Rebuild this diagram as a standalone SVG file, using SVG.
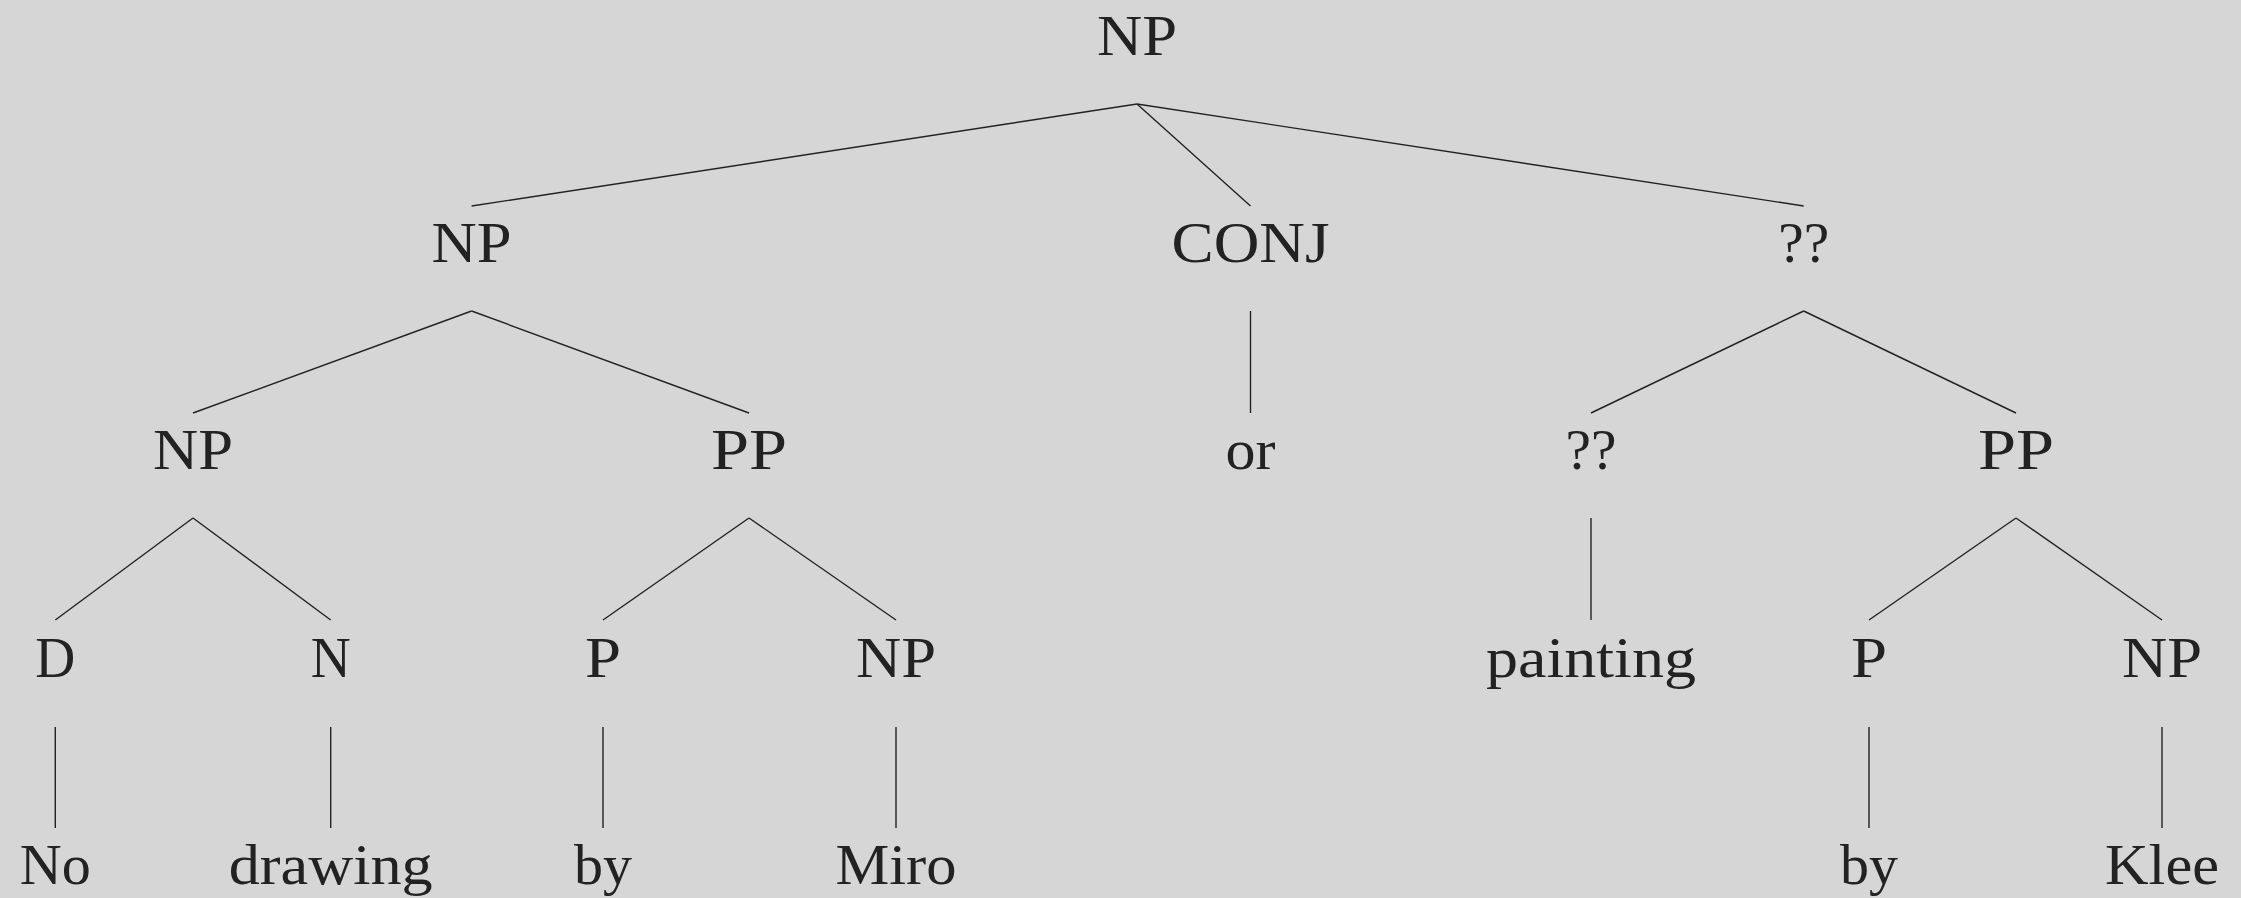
<svg xmlns="http://www.w3.org/2000/svg" width="2241" height="898" viewBox="0 0 2241 898">
<style>
  .bg { fill: #d6d6d6; }
  text { font-family: "Liberation Serif", "DejaVu Serif", serif; font-size: 58px; fill: #222222; text-anchor: middle; }
  .edges line { stroke: #222222; stroke-width: 1.4; stroke-linecap: butt; }
</style>
<rect class="bg" x="0" y="0" width="2241" height="898"/>
<g id="connectors" class="edges">
  <line x1="1137" y1="104" x2="471.6" y2="206"/>
  <line x1="1137" y1="104" x2="1250.5" y2="206"/>
  <line x1="1137" y1="104" x2="1803.7" y2="206"/>
  <line x1="471.6" y1="311" x2="193" y2="413"/>
  <line x1="471.6" y1="311" x2="749" y2="413"/>
  <line x1="1250.5" y1="311" x2="1250.5" y2="413"/>
  <line x1="1803.7" y1="311" x2="1591" y2="413"/>
  <line x1="1803.7" y1="311" x2="2016" y2="413"/>
  <line x1="193" y1="518" x2="55.3" y2="620"/>
  <line x1="193" y1="518" x2="330.7" y2="620"/>
  <line x1="749" y1="518" x2="603" y2="620"/>
  <line x1="749" y1="518" x2="896" y2="620"/>
  <line x1="1591" y1="518" x2="1591" y2="620"/>
  <line x1="2016" y1="518" x2="1869" y2="620"/>
  <line x1="2016" y1="518" x2="2162" y2="620"/>
  <line x1="55.3" y1="727" x2="55.3" y2="828"/>
  <line x1="330.7" y1="727" x2="330.7" y2="828"/>
  <line x1="603" y1="727" x2="603" y2="828"/>
  <line x1="896" y1="727" x2="896" y2="828"/>
  <line x1="1869" y1="727" x2="1869" y2="828"/>
  <line x1="2162" y1="727" x2="2162" y2="828"/>
</g>
<g id="n-root"><text x="1137" y="55" textLength="80" lengthAdjust="spacingAndGlyphs">NP</text></g>
<g id="n-np1"><text x="471.6" y="262" textLength="80" lengthAdjust="spacingAndGlyphs">NP</text></g>
<g id="n-conj"><text x="1250.5" y="262" textLength="158" lengthAdjust="spacingAndGlyphs">CONJ</text></g>
<g id="n-q1"><text x="1803.7" y="262" textLength="51" lengthAdjust="spacingAndGlyphs">??</text></g>
<g id="n-np2"><text x="193" y="469" textLength="80" lengthAdjust="spacingAndGlyphs">NP</text></g>
<g id="n-pp1"><text x="749" y="469" textLength="76" lengthAdjust="spacingAndGlyphs">PP</text></g>
<g id="n-or"><text x="1250.5" y="469" textLength="50" lengthAdjust="spacingAndGlyphs">or</text></g>
<g id="n-q2"><text x="1591" y="469" textLength="51" lengthAdjust="spacingAndGlyphs">??</text></g>
<g id="n-pp2"><text x="2016" y="469" textLength="76" lengthAdjust="spacingAndGlyphs">PP</text></g>
<g id="n-d"><text x="55.3" y="677" textLength="40" lengthAdjust="spacingAndGlyphs">D</text></g>
<g id="n-n"><text x="330.7" y="677" textLength="40" lengthAdjust="spacingAndGlyphs">N</text></g>
<g id="n-p1"><text x="603" y="677" textLength="36" lengthAdjust="spacingAndGlyphs">P</text></g>
<g id="n-np3"><text x="896" y="677" textLength="80" lengthAdjust="spacingAndGlyphs">NP</text></g>
<g id="n-painting"><text x="1591" y="677" textLength="210" lengthAdjust="spacingAndGlyphs">painting</text></g>
<g id="n-p2"><text x="1869" y="677" textLength="36" lengthAdjust="spacingAndGlyphs">P</text></g>
<g id="n-np4"><text x="2162" y="677" textLength="80" lengthAdjust="spacingAndGlyphs">NP</text></g>
<g id="n-no"><text x="55.3" y="884" textLength="71" lengthAdjust="spacingAndGlyphs">No</text></g>
<g id="n-drawing"><text x="330.7" y="884" textLength="204" lengthAdjust="spacingAndGlyphs">drawing</text></g>
<g id="n-by1"><text x="603" y="884" textLength="58" lengthAdjust="spacingAndGlyphs">by</text></g>
<g id="n-miro"><text x="896" y="884" textLength="121" lengthAdjust="spacingAndGlyphs">Miro</text></g>
<g id="n-by2"><text x="1869" y="884" textLength="58" lengthAdjust="spacingAndGlyphs">by</text></g>
<g id="n-klee"><text x="2162" y="884" textLength="114" lengthAdjust="spacingAndGlyphs">Klee</text></g>
</svg>
